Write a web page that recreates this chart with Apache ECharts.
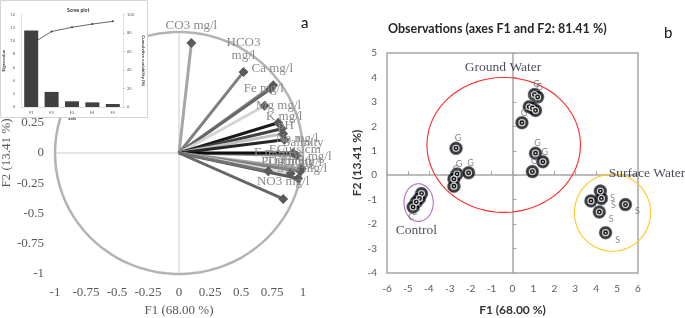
<!DOCTYPE html>
<html>
<head>
<meta charset="utf-8">
<script src="https://cdn.jsdelivr.net/npm/echarts@6/dist/echarts.min.js"></script>
<style>
  html, body { margin: 0; padding: 0; background: #fff; }
  #chart { width: 685px; height: 318px; }
</style>
</head>
<body>
<div id="chart"></div>
<script>
// a: variables (correlation circle)
var varNames = ['CO3 mg/l', 'HCO3\nmg/l', 'Ca mg/l', 'Fe mg/l', 'Mg mg/l', 'K mg/l', 'pH', 'Na mg/l',
                'Salinity', 'EC \u00b5s/cm', 'F mg/l', 'TDS mg/l', 'Cl mg/l', 'Turbidity', 'SO4 mg/l', 'PO4 mg/l', 'NO3 mg/l'];
var varF1 = [0.10, 0.52, 0.76, 0.74, 0.69, 0.80, 0.83, 0.84, 0.85, 0.95, 0.92, 0.99, 0.98, 0.90, 0.96, 0.72, 0.84];
var varF2 = [0.91, 0.67, 0.56, 0.53, 0.39, 0.25, 0.20, 0.16, 0.11, -0.02, 0.00, -0.13, -0.15, -0.17, -0.21, -0.15, -0.38];

// inset: scree plot
var screeAxes = ['F1', 'F2', 'F3', 'F4', 'F5'];
var eigenValues = [11.56, 2.28, 0.86, 0.70, 0.45];
var cumVariability = [68.00, 81.41, 86.0, 89.5, 92.4];

// b: observations
var groundF1 = [1.05, 1.2, 0.8, 0.95, 1.1, 0.45, 1.1, 1.45, 0.95, -2.7, -2.65, -2.1, -2.8, -2.8];
var groundF2 = [3.3, 3.2, 2.8, 2.75, 2.65, 2.15, 0.9, 0.55, 0.15, 1.1, 0.05, 0.1, -0.15, -0.45];
var surfaceF1 = [4.2, 4.25, 3.75, 4.15, 5.4, 4.45];
var surfaceF2 = [-0.65, -0.95, -1.05, -1.5, -1.2, -2.35];
var controlF1 = [-4.35, -4.45, -4.6, -4.75];
var controlF2 = [-0.75, -0.95, -1.1, -1.3];

// group ellipses: centre and radii in F1/F2 units
var groupNames = ['Ground Water', 'Surface Water', 'Control'];
var groupCx = [-0.42, 4.78, -4.49];
var groupCy = [1.24, -1.53, -1.12];
var groupRx = [3.67, 1.82, 0.70];
var groupRy = [2.76, 1.58, 0.77];
var groupLabelF1 = [-0.45, 4.6, -4.6];
var groupLabelF2 = [4.4, 0.08, -2.25];

// styling (not data)
var varColors = ['#a6a6a6', '#7f7f7f', '#8c8c8c', '#666666', '#d4d4d4', '#1a1a1a', '#404040', '#bfbfbf',
                 '#262626', '#999999', '#0d0d0d', '#a6a6a6', '#7f7f7f', '#d9d9d9', '#595959', '#737373', '#666666'];
var varLabelOffset = [[0, -17], [0, -23], [-1, -17], [-7, 0], [14, 0], [6, -6], [4, -3], [14, 5],
                      [19, 3], [-2, -6], [-22, 0], [4, -12], [2, -9], [0, -12], [4, -10], [18, -10], [0, -17]];
var groupColors = ['#ff2a2a', '#ffc820', '#b070c0'];
var groupLabelPos = ['inside', 'right', 'inside'];

var serif = '"Liberation Serif", "DejaVu Serif", serif';
var sans = 'Lato, "Open Sans", sans-serif';

function pts(xs, ys) {
    return xs.map(function (x, i) { return [x, ys[i]]; });
}

function ellipseItem(params, api) {
    var c = api.coord([api.value(0), api.value(1)]);
    var s = api.size([api.value(2), api.value(3)]);
    var p = [];
    for (var i = 0; i <= 90; i++) {
        var a = i / 90 * Math.PI * 2;
        p.push([c[0] + s[0] * Math.cos(a), c[1] + s[1] * Math.sin(a)]);
    }
    return {
        type: 'polyline',
        shape: { points: p },
        style: { stroke: api.visual('color'), lineWidth: params.seriesName === 'circle' ? 2.5 : 1.1, fill: null }
    };
}

var chart = echarts.init(document.getElementById('chart'));

var series = [];

// unit circle and centre lines
series.push({
    name: 'circle', type: 'custom', xAxisIndex: 0, yAxisIndex: 0, z: 2, silent: true,
    itemStyle: { color: '#b3b3b3' },
    renderItem: ellipseItem, data: [[0, 0, 1, 1]]
});
series.push({
    type: 'line', xAxisIndex: 0, yAxisIndex: 0, z: 1, silent: true, symbol: 'none',
    lineStyle: { color: '#dcdcdc', width: 1.5 }, data: [[-1, 0], [1, 0]]
});
series.push({
    type: 'line', xAxisIndex: 0, yAxisIndex: 0, z: 1, silent: true, symbol: 'none',
    lineStyle: { color: '#dcdcdc', width: 1.5 }, data: [[0, -1], [0, 1]]
});

// variable vectors
varNames.forEach(function (name, i) {
    series.push({
        type: 'line', xAxisIndex: 0, yAxisIndex: 0, z: 3, silent: true,
        symbol: 'diamond', symbolSize: 10,
        itemStyle: { color: '#5a5a5a' },
        lineStyle: { color: varColors[i], width: 3 },
        data: [
            { value: [0, 0], symbol: 'none' },
            { value: [varF1[i], varF2[i]],
              label: { show: true, position: 'inside', offset: varLabelOffset[i], formatter: name,
                       fontFamily: serif, fontSize: 13, color: '#8a8a8a', lineHeight: 13 } }
        ]
    });
});

// scree plot
series.push({
    type: 'bar', xAxisIndex: 3, yAxisIndex: 3, z: 110, barWidth: 14,
    itemStyle: { color: '#404040' }, data: eigenValues
});
series.push({
    type: 'line', xAxisIndex: 3, yAxisIndex: 4, z: 111, symbol: 'circle', symbolSize: 2,
    itemStyle: { color: '#404040' }, lineStyle: { color: '#404040', width: 0.8 }, data: cumVariability
});

// group ellipses
groupNames.forEach(function (g, i) {
    series.push({
        type: 'custom', xAxisIndex: 1, yAxisIndex: 1, z: 3, silent: true,
        itemStyle: { color: groupColors[i] },
        renderItem: ellipseItem, data: [[groupCx[i], groupCy[i], groupRx[i], groupRy[i]]]
    });
});
series.push({
    type: 'scatter', xAxisIndex: 1, yAxisIndex: 1, z: 6, symbolSize: 0, silent: true,
    data: groupNames.map(function (g, i) {
        return { value: [groupLabelF1[i], groupLabelF2[i]],
                 label: { show: true, position: groupLabelPos[i], distance: 0, formatter: g,
                          fontFamily: serif, fontSize: 13.5, color: '#1c1c30' } };
    })
});

// observation markers
var obsGroups = [
    { d: pts(groundF1, groundF2), t: 'G', off: [2, -10] },
    { d: pts(surfaceF1, surfaceF2), t: 'S', off: [12, 7] },
    { d: pts(controlF1, controlF2), t: 'C', off: [-2, 10] }
];
obsGroups.forEach(function (g) {
    series.push({
        type: 'scatter', xAxisIndex: 1, yAxisIndex: 1, z: 4, symbolSize: 13, silent: true,
        itemStyle: { color: '#0a0a0a', borderColor: '#6f7f9f', borderWidth: 0.6 },
        label: { show: true, formatter: g.t, position: 'inside', offset: g.off,
                 fontFamily: sans, fontSize: 9, color: '#6a6a6a' },
        data: g.d
    });
    series.push({
        type: 'scatter', xAxisIndex: 1, yAxisIndex: 1, z: 5, symbolSize: 6, silent: true,
        itemStyle: { color: '#0a0a0a', borderColor: '#fff', borderWidth: 1.2 },
        data: g.d
    });
    series.push({
        type: 'scatter', xAxisIndex: 1, yAxisIndex: 1, z: 5, symbolSize: 2, silent: true,
        itemStyle: { color: '#fff' },
        data: g.d
    });
});

var option = {
    animation: false,
    backgroundColor: '#fff',
    title: [
        { text: 'Observations (axes F1 and F2: 81.41 %)', left: 383, top: 17,
          textStyle: { fontFamily: sans, fontSize: 12.5, fontWeight: 'bold', color: '#262626' } },
        { text: 'b', left: 659, top: 21, textStyle: { fontFamily: sans, fontSize: 15, fontWeight: 'normal', color: '#111' } },
        { text: 'a', left: 296, top: 11, textStyle: { fontFamily: sans, fontSize: 15, fontWeight: 'normal', color: '#111' } },
        { text: 'Scree plot', left: 62, top: 3, z: 120,
          textStyle: { fontFamily: sans, fontSize: 5, fontWeight: 'bold', color: '#333' } }
    ],
    graphic: [{
        type: 'rect', left: 0, top: 0, z: 100, silent: true,
        shape: { x: 0, y: 0, width: 147, height: 117 },
        style: { fill: '#fff', stroke: '#d4d4d4', lineWidth: 1 }
    }],
    grid: [
        { left: 55, width: 248, top: 32, height: 242, outerBoundsMode: 'none' },
        { left: 387, width: 251, top: 53, height: 220, show: true, borderColor: '#a6a6a6', borderWidth: 1.5,
          outerBoundsMode: 'none' },
        { left: 21, width: 102, top: 14.3, height: 92.7, outerBoundsMode: 'none' }
    ],
    xAxis: [
        { gridIndex: 0, type: 'value', min: -1, max: 1, interval: 0.25,
          name: 'F1 (68.00 %)', nameLocation: 'middle', nameGap: 30,
          nameTextStyle: { fontFamily: serif, fontSize: 13, color: '#595959' },
          axisLine: { show: false }, axisTick: { show: false }, splitLine: { show: false },
          axisLabel: { fontFamily: serif, fontSize: 13, color: '#595959', margin: 12 } },
        { gridIndex: 1, type: 'value', min: -6, max: 6, interval: 1,
          name: 'F1 (68.00 %)', nameLocation: 'middle', nameGap: 31,
          nameTextStyle: { fontFamily: sans, fontSize: 12, fontWeight: 'bold', color: '#333' },
          axisLine: { show: false }, axisTick: { show: false }, splitLine: { show: false },
          axisLabel: { fontFamily: sans, fontSize: 10, color: '#595959', margin: 11 } },
        { gridIndex: 1, type: 'value', min: -6, max: 6, interval: 1, position: 'bottom',
          axisLine: { show: true, onZero: true, lineStyle: { color: '#a6a6a6', width: 1.5 } },
          axisTick: { show: true, length: 4, inside: true, lineStyle: { color: '#a6a6a6' } },
          axisLabel: { show: false }, splitLine: { show: false } },
        { gridIndex: 2, type: 'category', data: screeAxes, z: 110,
          name: 'axis', nameLocation: 'middle', nameGap: 8,
          nameTextStyle: { fontFamily: sans, fontSize: 4.5, fontWeight: 'bold', color: '#333' },
          axisLine: { lineStyle: { color: '#cfcfcf', width: 0.6 } }, axisTick: { show: false },
          axisLabel: { fontFamily: sans, fontSize: 4, color: '#595959', margin: 4 } }
    ],
    yAxis: [
        { gridIndex: 0, type: 'value', min: -1, max: 1, interval: 0.25,
          name: 'F2 (13.41 %)', nameLocation: 'middle', nameGap: 40,
          nameTextStyle: { fontFamily: serif, fontSize: 13, color: '#595959' },
          axisLine: { show: false }, axisTick: { show: false }, splitLine: { show: false },
          axisLabel: { fontFamily: serif, fontSize: 13, color: '#595959', margin: 11 } },
        { gridIndex: 1, type: 'value', min: -4, max: 5, interval: 1,
          name: 'F2 (13.41 %)', nameLocation: 'middle', nameGap: 22,
          nameTextStyle: { fontFamily: sans, fontSize: 12, fontWeight: 'bold', color: '#333' },
          axisLine: { show: false }, axisTick: { show: false }, splitLine: { show: false },
          axisLabel: { fontFamily: sans, fontSize: 10, color: '#595959', margin: 10 } },
        { gridIndex: 1, type: 'value', min: -4, max: 5, interval: 1, position: 'left',
          axisLine: { show: true, onZero: true, lineStyle: { color: '#a6a6a6', width: 1.5 } },
          axisTick: { show: true, length: 4, inside: true, lineStyle: { color: '#a6a6a6' } },
          axisLabel: { show: false }, splitLine: { show: false } },
        { gridIndex: 2, type: 'value', min: 0, max: 14, interval: 2, z: 110,
          name: 'Eigenvalue', nameLocation: 'middle', nameGap: 13,
          nameTextStyle: { fontFamily: sans, fontSize: 4.5, fontWeight: 'bold', color: '#333' },
          axisLine: { show: true, lineStyle: { color: '#cfcfcf', width: 0.6 } }, axisTick: { show: false },
          splitLine: { show: false },
          axisLabel: { fontFamily: sans, fontSize: 4, color: '#595959', margin: 6 } },
        { gridIndex: 2, type: 'value', min: 0, max: 100, interval: 20, position: 'right', z: 110,
          name: 'Cumulative variability (%)', nameLocation: 'middle', nameGap: 18, nameRotate: -90,
          nameTextStyle: { fontFamily: sans, fontSize: 4.5, fontWeight: 'bold', color: '#333' },
          axisLine: { show: true, lineStyle: { color: '#cfcfcf', width: 0.6 } },
          axisTick: { show: true, length: 2, lineStyle: { color: '#cfcfcf' } },
          splitLine: { show: false },
          axisLabel: { fontFamily: sans, fontSize: 4, color: '#595959', margin: 4 } }
    ],
    series: series
};

chart.setOption(option);
window.onresize = function () { chart.resize(); };
</script>
</body>
</html>
